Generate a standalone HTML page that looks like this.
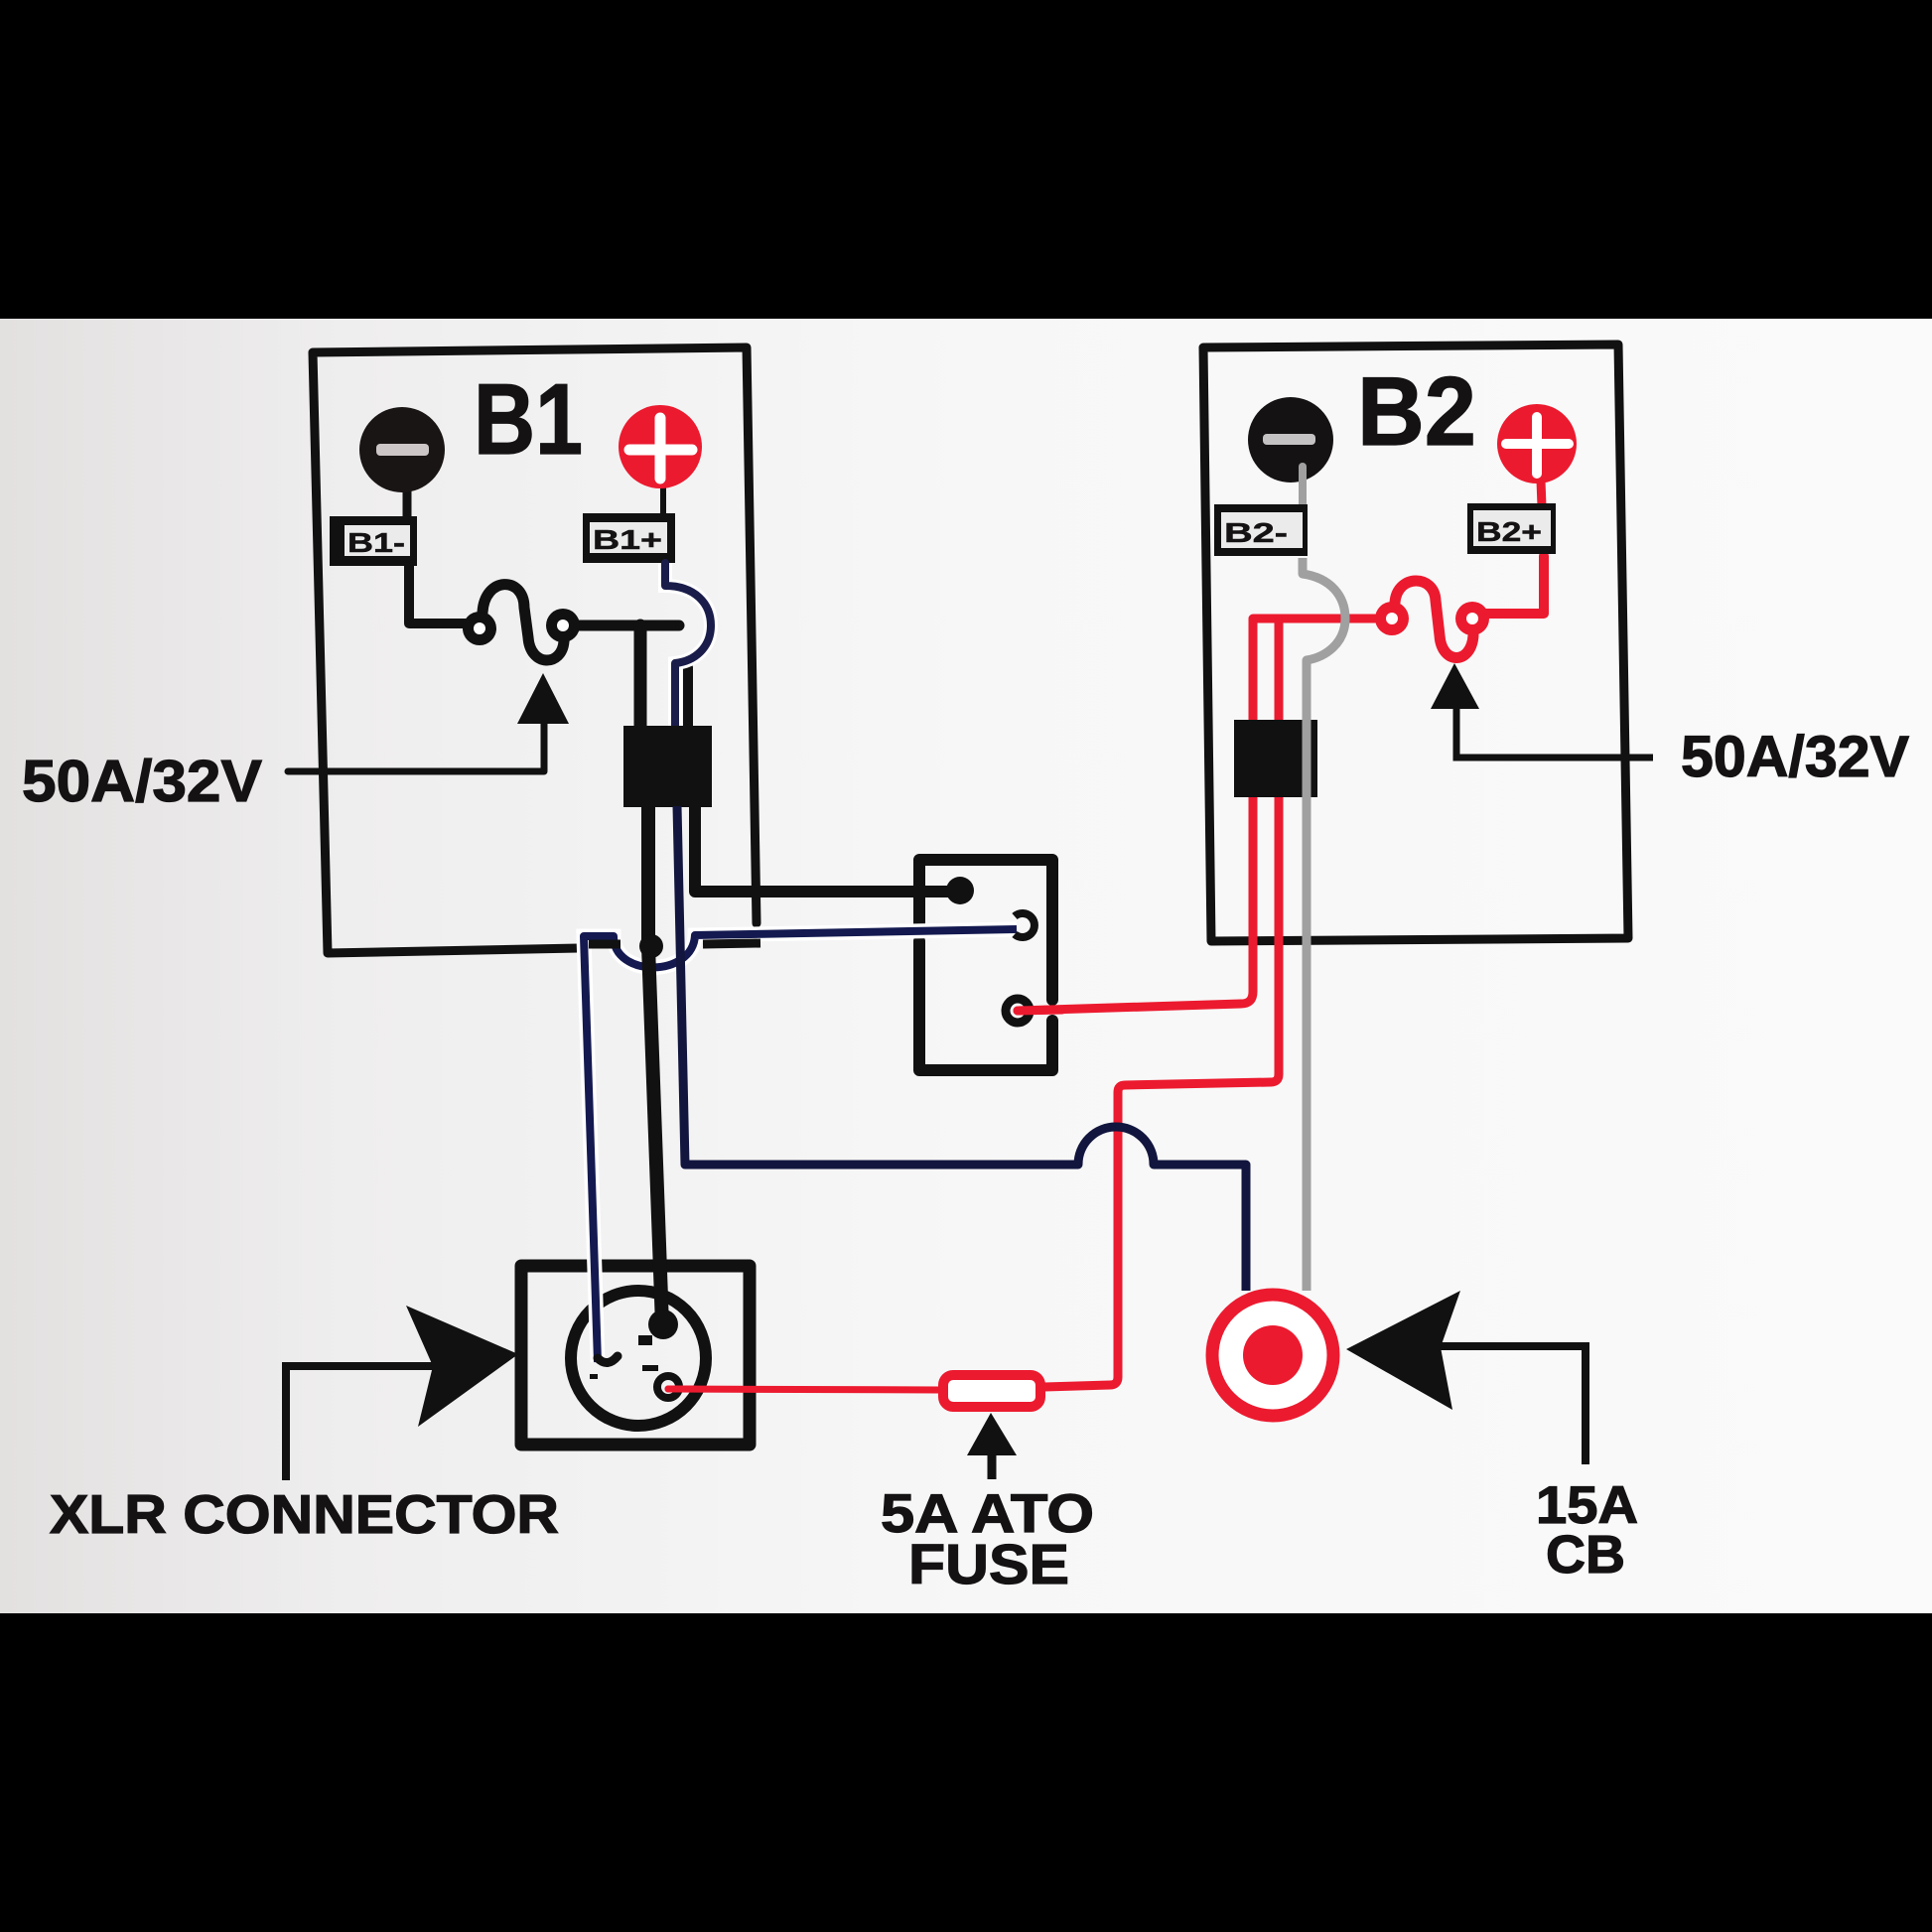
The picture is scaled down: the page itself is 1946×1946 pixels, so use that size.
<!DOCTYPE html>
<html><head><meta charset="utf-8"><style>
html,body{margin:0;padding:0;background:#000;}
svg{display:block;}
text{font-family:"Liberation Sans",Arial,sans-serif;font-weight:bold;fill:#141212;stroke:#141212;stroke-width:1.2;}
</style></head><body>
<svg width="1946" height="1946" viewBox="0 0 1946 1946" xmlns="http://www.w3.org/2000/svg">
<defs>
<linearGradient id="bg" x1="0" x2="1" y1="0" y2="0">
<stop offset="0" stop-color="#e3e0e0"/><stop offset="0.18" stop-color="#efeeee"/><stop offset="0.5" stop-color="#f7f7f7"/><stop offset="1" stop-color="#fafafa"/>
</linearGradient>
</defs>
<rect width="1946" height="1946" fill="#000"/>
<rect x="0" y="321" width="1946" height="1304" fill="url(#bg)"/>

<g fill="none" stroke="#111" stroke-linecap="round" stroke-linejoin="round">
<!-- B1 box -->
<path d="M583,955 L330,960 L315,355 L752,350 L762,930" stroke-width="9"/>
<!-- B2 box -->
<path d="M1220,948 L1212,350 L1630,347 L1640,945 Z" stroke-width="9"/>
<!-- relay box -->
<path d="M926,934 V866 H1060 V1007 M1060,1028 V1078 H926 V948" stroke-width="12"/>
<!-- XLR box -->
<rect x="525" y="1275" width="230" height="180" stroke-width="13"/>
<circle cx="643" cy="1368" r="68" stroke-width="12"/>
</g>

<!-- B1 terminals -->
<line x1="410" y1="488" x2="410" y2="522" stroke="#111" stroke-width="9"/>
<circle cx="405" cy="453" r="43" fill="#1a1515"/>
<rect x="379" y="447" width="53" height="12" rx="4" fill="#cdc6c6"/>
<rect x="332" y="520" width="88" height="50" fill="#111"/>
<rect x="347" y="529" width="66" height="31" fill="#ecebeb"/>
<text x="350" y="556" font-size="28" textLength="58" lengthAdjust="spacingAndGlyphs" style="stroke-width:0.5">B1-</text>

<line x1="668" y1="488" x2="668" y2="520" stroke="#111" stroke-width="6"/>
<circle cx="665" cy="450" r="42" fill="#ec1a2f"/>
<path d="M665,421 V482 M634,453 H697" stroke="#fff" stroke-width="11" stroke-linecap="round"/>
<rect x="587" y="517" width="93" height="50" fill="#111"/>
<rect x="594" y="526" width="78" height="31" fill="#ecebeb"/>
<text x="597" y="553" font-size="28" textLength="70" lengthAdjust="spacingAndGlyphs" style="stroke-width:0.5">B1+</text>

<text x="477" y="457" font-size="101" textLength="110" lengthAdjust="spacingAndGlyphs">B1</text>

<!-- B1 fuse and wires -->
<g fill="none" stroke="#111" stroke-linecap="round" stroke-linejoin="round">
<path d="M412,570 V628 H470" stroke-width="10"/>
<path d="M486,617 C488,580 528,580 528,612 L532,642 C534,672 566,672 568,646" stroke-width="11"/>
<path d="M548,726 V777 H290" stroke-width="7"/>
<path d="M580,630 H684" stroke-width="11"/>
<path d="M645,630 V735" stroke-width="13"/>
<path d="M693,672 V735" stroke-width="10"/>
</g>
<circle cx="483" cy="633" r="17" fill="#111"/><circle cx="483" cy="633" r="6" fill="#fff"/>
<circle cx="567" cy="630" r="17" fill="#111"/><circle cx="567" cy="630" r="6" fill="#fff"/>
<polygon points="547,678 521,729 573,729" fill="#111"/>

<!-- B1+ navy hop -->
<path d="M670,567 V590 C700,590 716,608 716,630 C716,652 700,666 680,668 V735" fill="none" stroke="#fff" stroke-width="14"/>
<path d="M670,567 V590 C700,590 716,608 716,630 C716,652 700,666 680,668 V735" fill="none" stroke="#1a1d4a" stroke-width="8" stroke-linecap="round" stroke-linejoin="round"/>

<rect x="628" y="731" width="89" height="82" fill="#111"/>

<!-- relay wire -->
<path d="M700,812 V898 H955" fill="none" stroke="#111" stroke-width="12" stroke-linejoin="round"/>

<!-- blue wire -->
<path d="M1024,936 L700,942 C698,985 618,985 618,943 L588,943 L602,1372" fill="none" stroke="#fff" stroke-width="15"/>
<path d="M1024,936 L700,942 C698,985 618,985 618,943 L588,943 L602,1372" fill="none" stroke="#141a50" stroke-width="8" stroke-linejoin="round"/>
<path d="M593,951 L625,951 M708,951 L766,950" stroke="#111" stroke-width="9"/>

<!-- thick black to XLR -->
<path d="M653,812 V953 L667,1335" fill="none" stroke="#111" stroke-width="14" stroke-linejoin="round"/>
<circle cx="656" cy="953" r="12" fill="#111"/>

<!-- red wires -->
<g fill="none" stroke="#ec1a2f" stroke-linecap="round" stroke-linejoin="round">
<path d="M1025,1018 L1250,1011 Q1262,1011 1262,999 V623 H1395" stroke-width="9"/>
<path d="M673,1399 L946,1400" stroke-width="7"/>
<path d="M1052,1397 L1118,1395 Q1126,1395 1126,1387 V1100 Q1126,1093 1133,1093 L1280,1090 Q1288,1090 1288,1082 V626" stroke-width="9"/>
<path d="M1495,618 H1555 V560" stroke-width="10"/>
<path d="M1405,607 C1407,578 1445,578 1446,605 L1450,640 C1452,670 1482,670 1484,640" stroke-width="11"/>
<line x1="1552" y1="484" x2="1553" y2="510" stroke-width="9"/>
</g>
<circle cx="1402" cy="623" r="17" fill="#ec1a2f"/><circle cx="1402" cy="623" r="6" fill="#fff"/>
<circle cx="1483" cy="623" r="17" fill="#ec1a2f"/><circle cx="1483" cy="623" r="6" fill="#fff"/>

<!-- CB navy wire (over red with hop) -->
<path d="M682,812 L690,1173 H1086 A38,38 0 0 1 1162,1173 H1255 V1300" fill="none" stroke="#12163e" stroke-width="9" stroke-linejoin="round"/>

<!-- relay terminals -->
<circle cx="967" cy="897" r="14" fill="#111"/>
<path d="M1022,923 A12,12 0 1 1 1022,941" fill="none" stroke="#111" stroke-width="8"/>
<circle cx="1025" cy="1018" r="12" fill="none" stroke="#111" stroke-width="9"/>
<line x1="1025" y1="1018" x2="1070" y2="1017" stroke="#ec1a2f" stroke-width="9" stroke-linecap="round"/>

<!-- B2 terminals -->
<line x1="1312" y1="478" x2="1312" y2="512" stroke="#a0a0a0" stroke-width="8"/>
<circle cx="1300" cy="443" r="43" fill="#141212"/>
<rect x="1272" y="437" width="53" height="11" rx="4" fill="#c4c2c2"/>
<line x1="1312" y1="470" x2="1312" y2="490" stroke="#a0a0a0" stroke-width="8" stroke-linecap="round"/>
<rect x="1223" y="508" width="94" height="52" fill="#111"/>
<rect x="1230" y="516" width="82" height="36" fill="#ecebeb"/>
<text x="1233" y="546" font-size="28" textLength="64" lengthAdjust="spacingAndGlyphs" style="stroke-width:0.5">B2-</text>

<circle cx="1548" cy="447" r="40" fill="#ec1a2f"/>
<path d="M1548,420 V477 M1517,447 H1580" stroke="#fff" stroke-width="10" stroke-linecap="round"/>
<rect x="1478" y="507" width="89" height="51" fill="#111"/>
<rect x="1484" y="514" width="78" height="36" fill="#ecebeb"/>
<text x="1487" y="545" font-size="28" textLength="66" lengthAdjust="spacingAndGlyphs" style="stroke-width:0.5">B2+</text>

<text x="1367" y="448" font-size="98" textLength="120" lengthAdjust="spacingAndGlyphs">B2</text>

<rect x="1243" y="725" width="84" height="78" fill="#111"/>

<!-- gray wire -->
<path d="M1312,562 V578 C1340,582 1355,600 1355,623 C1355,648 1335,662 1316,665 V1300" fill="none" stroke="#a0a0a0" stroke-width="9" stroke-linejoin="round"/>

<!-- B2 fuse arrow -->
<polygon points="1465,668 1441,714 1490,714" fill="#111"/>
<path d="M1467,712 V763 H1665" fill="none" stroke="#111" stroke-width="7"/>

<!-- CB -->
<circle cx="1282" cy="1365" r="61" fill="#fff" stroke="#ec1a2f" stroke-width="13"/>
<circle cx="1282" cy="1365" r="30" fill="#ec1a2f"/>
<polygon points="1356,1359 1471,1300 1451,1357 1463,1420" fill="#111"/>
<path d="M1450,1356 H1597 V1475" fill="none" stroke="#111" stroke-width="8"/>

<!-- XLR pins -->
<circle cx="668" cy="1334" r="15" fill="#111"/>
<path d="M602,1368 Q612,1378 622,1366" fill="none" stroke="#111" stroke-width="9" stroke-linecap="round"/>
<rect x="643" y="1345" width="14" height="10" fill="#111"/>
<rect x="647" y="1375" width="16" height="6" fill="#111"/>
<rect x="594" y="1384" width="8" height="5" fill="#111"/>
<circle cx="673" cy="1397" r="11" fill="none" stroke="#111" stroke-width="8"/>
<line x1="673" y1="1399" x2="700" y2="1399" stroke="#ec1a2f" stroke-width="7" stroke-linecap="round"/>
<polygon points="522,1364 409,1315 436,1376 421,1437" fill="#111"/>
<path d="M436,1376 H288 V1491" fill="none" stroke="#111" stroke-width="8"/>

<!-- ATO fuse -->
<rect x="950" y="1385" width="98" height="32" rx="10" fill="#fff" stroke="#ec1a2f" stroke-width="10"/>
<polygon points="998,1423 974,1466 1024,1466" fill="#111"/>
<line x1="999" y1="1462" x2="999" y2="1490" stroke="#111" stroke-width="9"/>

<!-- labels -->
<text x="22" y="807" font-size="59" textLength="242" lengthAdjust="spacingAndGlyphs">50A/32V</text>
<text x="1693" y="782" font-size="58" textLength="230" lengthAdjust="spacingAndGlyphs">50A/32V</text>
<text x="50" y="1544" font-size="55" textLength="513" lengthAdjust="spacingAndGlyphs">XLR CONNECTOR</text>
<text x="887" y="1543" font-size="55" textLength="215" lengthAdjust="spacingAndGlyphs">5A ATO</text>
<text x="915" y="1595" font-size="57" textLength="162" lengthAdjust="spacingAndGlyphs">FUSE</text>
<text x="1547" y="1534" font-size="53" textLength="103" lengthAdjust="spacingAndGlyphs">15A</text>
<text x="1557" y="1584" font-size="54" textLength="80" lengthAdjust="spacingAndGlyphs">CB</text>
</svg>
</body></html>
